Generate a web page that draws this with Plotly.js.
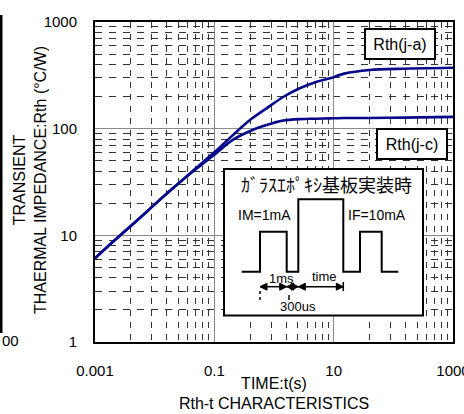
<!DOCTYPE html>
<html>
<head>
<meta charset="utf-8">
<script src="https://cdn.plot.ly/plotly-3.0.1.min.js"></script>
<style>
  html, body { margin: 0; padding: 0; background: #fff; }
  #chart { width: 464px; height: 414px; }
</style>
</head>
<body>
<div id="chart"></div>
<script>
// ---- data ----
const time = [0.001, 0.002, 0.005, 0.01, 0.02, 0.05, 0.1, 0.2, 0.4, 0.75, 1.4, 2.7, 5.2, 8.7, 15, 40, 145, 1000];
const rthJA = [6.1, 8.7, 13.7, 19.5, 27.5, 43, 60, 86, 121, 155, 197, 239, 276, 297, 328, 355, 365, 372];
const rthJC = [6.1, 8.7, 13.7, 19.5, 27.5, 42, 57, 78, 95, 108, 119, 123, 124, 125, 126, 126, 127, 129];
const seriesNames = ['Rth(j-a)', 'Rth(j-c)'];

const xTickVals = [0.001, 0.1, 10, 1000];
const xTickText = ['0.001', '0.1', '10', '1000'];
const yTickVals = [1, 10, 100, 1000];
const yTickText = ['1', '10', '100', '1000'];
// chart paper uses 1..9 log cycles spanning two decades on the time axis
const xMinorGrid = [0.004, 0.009, 0.016, 0.025, 0.036, 0.049, 0.064, 0.081,
                    0.4, 0.9, 1.6, 2.5, 3.6, 4.9, 6.4, 8.1,
                    40, 90, 160, 250, 360, 490, 640, 810];
const yMinorGrid = [2, 3, 4, 5, 6, 7, 8, 9, 20, 30, 40, 50, 60, 70, 80, 90,
                    200, 300, 400, 500, 600, 700, 800, 900];

const xTitle = 'TIME:t(s)';
const yTitle = 'TRANSIENT<br>THAERMAL IMPEDANCE:Rth (°C/W)';
const chartTitle = 'Rth-t CHARACTERISTICS';
const insetTitle = 'ｶﾞﾗｽｴﾎﾟｷｼ基板実装時';
const insetLabels = ['IM=1mA', 'IF=10mA', '1ms', 'time', '300us'];

// ---- geometry helpers (pixel -> paper) ----
const L = 95, R = 453, T = 22, B = 342;
const P = x => (x - L) / (R - L);
const Q = y => (B - y) / (B - T);

const LATIN = 'Liberation Sans, Arial, sans-serif';
const CJK = 'Noto Sans CJK JP, sans-serif';
const NAVY = '#07078a';

const traces = [
  { x: time, y: rthJA, name: seriesNames[0], type: 'scatter', mode: 'lines',
    line: { color: NAVY, width: 2.6, shape: 'spline', smoothing: 0.8 } },
  { x: time, y: rthJC, name: seriesNames[1], type: 'scatter', mode: 'lines',
    line: { color: NAVY, width: 2.6, shape: 'spline', smoothing: 0.8 } }
];

// inset pulse diagram
const wave = [[241.7,271.7],[260,271.7],[260,231.7],[286.7,231.7],[286.7,271.7],[298.3,271.7],
              [298.3,199.3],[343.3,199.3],[343.3,271.7],[360,271.7],[360,231.7],[381.7,231.7],
              [381.7,271.7],[398.3,271.7]];
const wavePath = wave.map((p, i) => (i ? 'L' : 'M') + P(p[0]) + ',' + Q(p[1])).join(' ');

function head(xTip, y, dir) {
  const len = 7, hw = 3.5;
  const xb = xTip - dir * len;
  return { type: 'path', xref: 'paper', yref: 'paper',
    path: `M${P(xTip)},${Q(y)} L${P(xb)},${Q(y - hw)} L${P(xb)},${Q(y + hw)} Z`,
    fillcolor: '#000', line: { color: '#000', width: 1 } };
}
function dblArrow(x0, x1, y) {
  return [
    { type: 'line', xref: 'paper', yref: 'paper', x0: P(x0), x1: P(x1), y0: Q(y), y1: Q(y),
      line: { color: '#000', width: 1.5 } },
    head(x0, y, -1), head(x1, y, 1)
  ];
}

const shapes = [
  // inset box
  { type: 'rect', xref: 'paper', yref: 'paper', x0: P(224), x1: P(423), y0: Q(315.5), y1: Q(169),
    fillcolor: '#fff', line: { color: '#000', width: 2 } },
  { type: 'path', xref: 'paper', yref: 'paper', path: wavePath, line: { color: '#000', width: 2 } },
  ...dblArrow(260, 286.7, 286.7),
  ...dblArrow(286.7, 298.3, 286.7),
  ...dblArrow(298.3, 343.3, 286.7),
  { type: 'line', xref: 'paper', yref: 'paper', x0: P(343.3), x1: P(343.3), y0: Q(282), y1: Q(291),
    line: { color: '#000', width: 1.5 } },
  { type: 'line', xref: 'paper', yref: 'paper', x0: P(260), x1: P(260), y0: Q(291), y1: Q(300),
    line: { color: '#000', width: 1.5, dash: '3px,3px' } },
  { type: 'line', xref: 'paper', yref: 'paper', x0: P(289), x1: P(289), y0: Q(295), y1: Q(300),
    line: { color: '#000', width: 1.5 } },
  // edge of neighbouring chart visible at the left border
  { type: 'line', xref: 'paper', yref: 'paper', x0: P(1), x1: P(1), y0: Q(15), y1: Q(333),
    line: { color: '#000', width: 3 } }
];

function label(x, y, text, size, family, extra) {
  return Object.assign({ xref: 'paper', yref: 'paper', x: P(x), y: Q(y), text: text,
    showarrow: false, xanchor: 'center', yanchor: 'middle',
    font: { family: family || LATIN, size: size, color: '#000' } }, extra || {});
}

const annotations = [
  label(399.5, 44, seriesNames[0], 16, LATIN,
        { bgcolor: '#fff', bordercolor: '#000', borderwidth: 2, borderpad: 3, width: 62, height: 22 }),
  label(412, 144, seriesNames[1], 16, LATIN,
        { bgcolor: '#fff', bordercolor: '#000', borderwidth: 2, borderpad: 3, width: 62, height: 22 }),
  label(326.7, 184, insetTitle, 18, CJK),
  label(264, 215, insetLabels[0], 14),
  label(376.5, 215, insetLabels[1], 14),
  label(281, 278, insetLabels[2], 13),
  label(324, 276, insetLabels[3], 13),
  label(298, 306, insetLabels[4], 13),
  // y axis title (two lines, rotated)
  label(30, 180, yTitle, 16, LATIN, { textangle: -90 }),
  // cut-off tick label of the neighbouring chart
  label(0, 340, '00', 15, LATIN, { xanchor: 'left' })
];

const layout = {
  width: 464, height: 414,
  margin: { l: L, r: 464 - R, t: T, b: 414 - B },
  paper_bgcolor: '#fff', plot_bgcolor: '#fff',
  showlegend: false,
  font: { family: LATIN, color: '#000' },
  title: { text: chartTitle, xref: 'paper', x: 0.5, xanchor: 'center',
           yref: 'container', y: 1 - 403 / 414, yanchor: 'middle',
           font: { family: LATIN, size: 16, color: '#000' } },
  xaxis: {
    type: 'log', range: [-3, 3], tickmode: 'array', tickvals: xTickVals, ticktext: xTickText,
    ticks: '', ticklabelstandoff: 14, ticklabeloverflow: 'allow',
    tickfont: { size: 15, family: LATIN, color: '#000' },
    showgrid: true, gridcolor: '#8a8a8a', gridwidth: 1.5, zeroline: false,
    showline: true, linecolor: '#000', linewidth: 2, mirror: true,
    minor: { tickmode: 'array', tickvals: xMinorGrid, ticks: '', showgrid: true,
             gridcolor: '#333', gridwidth: 1, griddash: '6px,6px' },
    title: { text: xTitle, font: { size: 16, family: LATIN, color: '#000' }, standoff: 0 }
  },
  yaxis: {
    type: 'log', range: [0, 3], tickmode: 'array', tickvals: yTickVals, ticktext: yTickText,
    ticks: '', ticklabelstandoff: 13, ticklabeloverflow: 'allow',
    tickfont: { size: 15, family: LATIN, color: '#000' },
    showgrid: true, gridcolor: '#8a8a8a', gridwidth: 1.5, zeroline: false,
    showline: true, linecolor: '#000', linewidth: 2, mirror: true,
    minor: { tickmode: 'array', tickvals: yMinorGrid, ticks: '', showgrid: true,
             gridcolor: '#333', gridwidth: 1, griddash: '7px,7px' }
  },
  shapes: shapes,
  annotations: annotations
};

Plotly.newPlot('chart', traces, layout, { staticPlot: true, displayModeBar: false });
</script>
</body>
</html>
